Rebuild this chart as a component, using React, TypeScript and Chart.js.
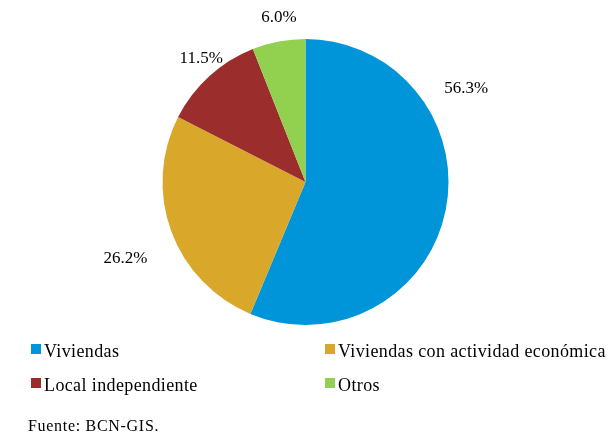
import React, { useEffect, useRef } from "react";
import { Chart, registerables } from "chart.js";

Chart.register(...registerables);

const categories = ["Viviendas", "Viviendas con actividad económica", "Local independiente", "Otros"];
const values = [56.3, 26.2, 11.5, 6.0];
const valueLabels = ["56.3%", "26.2%", "11.5%", "6.0%"];
const colors = ["#0095D9", "#D9A82A", "#9B2D2D", "#92D050"];
const sourceText = "Fuente: BCN-GIS.";

const FONT = "'Liberation Serif', 'Times New Roman', serif";

const overlayPlugin = {
  id: "overlay",
  afterDraw(chart: any, _args: any, opts: any) {
    const ctx = chart.ctx;
    const meta = chart.getDatasetMeta(0);
    ctx.save();
    ctx.fillStyle = "#000";
    ctx.font = `17px ${FONT}`;
    ctx.textAlign = "center";
    ctx.textBaseline = "middle";
    meta.data.forEach((arc: any, i: number) => {
      const p = arc.getProps(["x", "y", "startAngle", "endAngle", "outerRadius"], true);
      const place = opts.placement[i];
      const mid = place.angle != null ? (place.angle * Math.PI) / 180 : (p.startAngle + p.endAngle) / 2;
      const d = p.outerRadius + place.gap;
      ctx.fillText(valueLabels[i], p.x + Math.cos(mid) * d, p.y + Math.sin(mid) * d + 2);
    });
    // legend
    ctx.textAlign = "left";
    ctx.textBaseline = "alphabetic";
    ctx.font = `18px ${FONT}`;
    (ctx as any).letterSpacing = "0.38px";
    categories.forEach((c, i) => {
      const col = i % 2;
      const row = Math.floor(i / 2);
      const x = opts.legendX[col];
      const y = opts.legendY[row];
      ctx.fillStyle = colors[i];
      ctx.fillRect(x, y - 13, 10, 10);
      ctx.fillStyle = "#000";
      ctx.fillText(c, x + 13, y);
    });
    ctx.font = `16px ${FONT}`;
    (ctx as any).letterSpacing = "0.7px";
    ctx.fillText(sourceText, 28, 431);
    ctx.restore();
  },
};

export default function App() {
  const ref = useRef<HTMLCanvasElement>(null);
  useEffect(() => {
    if (!ref.current) return;
    const chart = new Chart(ref.current, {
      type: "pie",
      data: {
        labels: categories,
        datasets: [{ data: values, backgroundColor: colors, borderWidth: 0 }],
      },
      options: {
        animation: false,
        responsive: false,
        layout: { padding: { top: 39, bottom: 112, left: 0, right: 0 } },
        plugins: {
          legend: { display: false },
          tooltip: { enabled: false },
          overlay: {
            placement: [
              { angle: -30.8, gap: 44 },
              { angle: 157.4, gap: 52 },
              { angle: 230.2, gap: 20 },
              { angle: 261, gap: 26 },
            ],
            legendX: [31, 325],
            legendY: [357, 391],
          },
        } as any,
      },
      plugins: [overlayPlugin],
    });
    return () => chart.destroy();
  }, []);
  return (
    <div style={{ position: "absolute", left: 0, top: 0, width: 611, height: 437, background: "#fff" }}>
      <canvas ref={ref} width={611} height={437} style={{ width: 611, height: 437 }} />
    </div>
  );
}
